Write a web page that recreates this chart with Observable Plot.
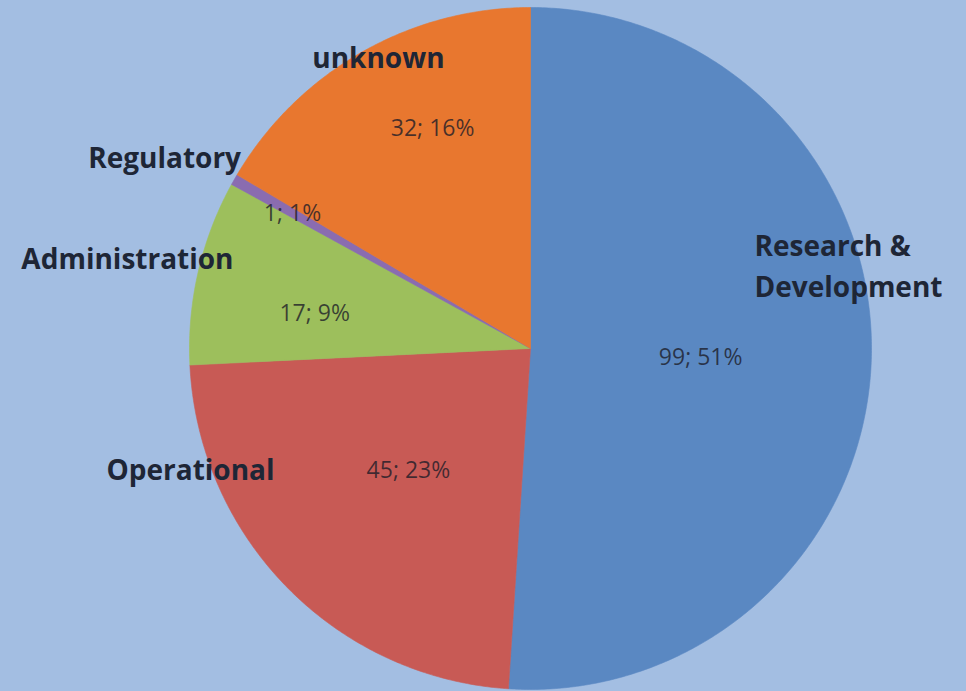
<!DOCTYPE html>
<html><head><meta charset="utf-8">
<script src="https://cdn.jsdelivr.net/npm/d3@7"></script>
<script src="https://cdn.jsdelivr.net/npm/@observablehq/plot@0.6"></script>
<style>
html,body{margin:0;padding:0;background:#a3bee2;}
#chart svg{display:block;}
</style>
</head><body><div id="chart"></div>
<script>
// ---- data ----
const categories = ["Research & Development", "Operational", "Administration", "Regulatory", "unknown"];
const values = [99, 45, 17, 1, 32];
const categoryLabels = ["Research &\nDevelopment", "Operational", "Administration", "Regulatory", "unknown"];
const colors = ["#5a88c2", "#c85a55", "#9dbf5c", "#8a6cb0", "#e8772f"];

// ---- layout (in units of pie radius, relative to centre) ----
const W = 966, H = 691, cx = 530, cy = 348, R = 341;
const categoryPos = [[0.657, 0.250], [-0.997, -0.358], [-1.182, 0.258], [-1.073, 0.557], [-0.446, 0.850]];
const categoryAnchor = ["start", "middle", "middle", "middle", "middle"];
const valuePos = [[0.499, -0.026], [-0.358, -0.358], [-0.633, 0.103], [-0.698, 0.396], [-0.287, 0.645]];

const total = d3.sum(values);
let acc = 0;
const slices = values.map((v, i) => {
  const a0 = acc / total * 2 * Math.PI;
  acc += v;
  const a1 = acc / total * 2 * Math.PI;
  const n = Math.max(4, Math.ceil((a1 - a0) / (Math.PI / 360)));
  const pts = [{x: 0, y: 0}];
  for (let k = 0; k <= n; k++) {
    const a = a0 + (a1 - a0) * k / n;
    pts.push({x: Math.sin(a), y: Math.cos(a)});
  }
  pts.push({x: 0, y: 0});
  return {category: categories[i], color: colors[i], pts};
});

const labelRows = categories.map((c, i) => ({
  label: categoryLabels[i], x: categoryPos[i][0], y: categoryPos[i][1], anchor: categoryAnchor[i],
  value: `${values[i]}; ${Math.round(values[i] / total * 100)}%`, vx: valuePos[i][0], vy: valuePos[i][1]
}));

const chart = Plot.plot({
  width: W, height: H,
  margin: 0,
  x: {domain: [-cx / R, (W - cx) / R], axis: null},
  y: {domain: [-(H - cy) / R, cy / R], axis: null},
  style: {background: "#a3bee2", overflow: "visible"},
  marks: [
    ...slices.map(s => Plot.line(s.pts, {x: "x", y: "y", fill: s.color, stroke: s.color, strokeWidth: 0.6, curve: "linear"})),
    Plot.text(labelRows.filter(d => d.anchor === "middle"), {x: "x", y: "y", text: "label", fontFamily: "Open Sans", fontWeight: "bold", fontSize: 28, fill: "#1e2636", textAnchor: "middle"}),
    Plot.text(labelRows.filter(d => d.anchor === "start"), {x: "x", y: "y", text: "label", fontFamily: "Open Sans", fontWeight: "bold", fontSize: 28, fill: "#1e2636", textAnchor: "start", lineHeight: 1.45}),
    Plot.text(labelRows, {x: "vx", y: "vy", text: "value", fontFamily: "Open Sans", fontSize: 23, fill: "#1c1c28", fillOpacity: 0.78, textAnchor: "middle"})
  ]
});
document.getElementById("chart").append(chart);
</script>
</body></html>
